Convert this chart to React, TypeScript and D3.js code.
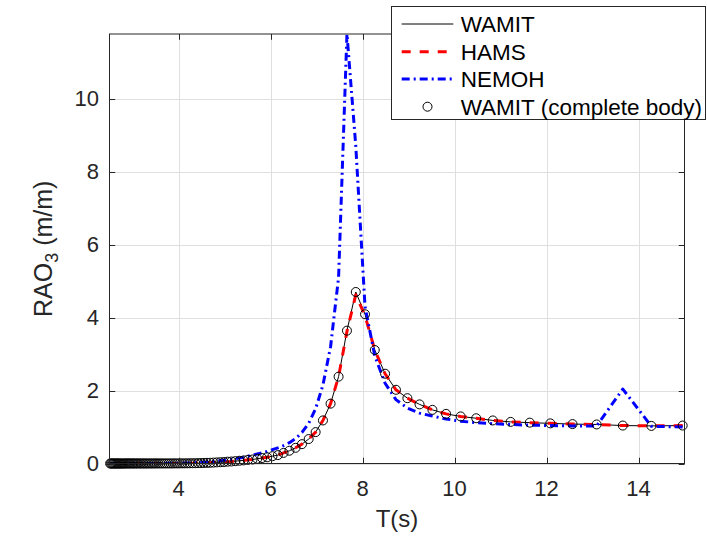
import React from 'react';
import * as d3 from 'd3';

// Wave periods T (s) of the frequency grid (from 14.96 s down to 2.513 s)
const period: number[] = [
  14.960, 14.280, 13.659, 13.090, 12.566, 12.083, 11.636, 11.220, 10.833, 10.472,
  10.134, 9.817, 9.520, 9.240, 8.976, 8.727, 8.491, 8.267, 8.055, 7.854,
  7.662, 7.480, 7.306, 7.140, 6.981, 6.830, 6.684, 6.545, 6.411, 6.283,
  6.160, 6.042, 5.927, 5.818, 5.712, 5.610, 5.512, 5.417, 5.325, 5.236,
  5.150, 5.067, 4.987, 4.909, 4.833, 4.760, 4.689, 4.620, 4.553, 4.488,
  4.425, 4.363, 4.304, 4.245, 4.189, 4.134, 4.080, 4.028, 3.977, 3.927,
  3.879, 3.831, 3.785, 3.740, 3.696, 3.653, 3.611, 3.570, 3.530, 3.491,
  3.452, 3.415, 3.378, 3.342, 3.307, 3.272, 3.239, 3.206, 3.173, 3.142,
  3.110, 3.080, 3.050, 3.021, 2.992, 2.964, 2.936, 2.909, 2.882, 2.856,
  2.830, 2.805, 2.780, 2.756, 2.732, 2.708, 2.685, 2.663, 2.640, 2.618,
  2.596, 2.575, 2.554, 2.533, 2.513,
];

const wamit: number[] = [
  1.04, 1.03, 1.04, 1.07, 1.08, 1.10, 1.12, 1.14, 1.18, 1.24,
  1.29, 1.36, 1.47, 1.62, 1.79, 2.02, 2.46, 3.11, 4.09, 4.70,
  3.64, 2.38, 1.64, 1.18, 0.86, 0.67, 0.53, 0.43, 0.35, 0.29,
  0.23, 0.20, 0.17, 0.15, 0.13, 0.11, 0.10, 0.085, 0.075, 0.065,
  0.055, 0.05, 0.04, 0.035, 0.03, 0.025, 0.02, 0.018, 0.015, 0.012,
  0.01, 0.008, 0.007, 0.006, 0.005, 0.004, 0.004, 0.003, 0.003, 0.003,
  0.002, 0.002, 0.002, 0.002, 0.002, 0.002, 0.002, 0.002, 0.002, 0.002,
  0.001, 0.001, 0.001, 0.001, 0.001, 0.001, 0.001, 0.001, 0.001, 0.001,
  0.001, 0.001, 0.001, 0.001, 0.001, 0.001, 0.001, 0.001, 0.001, 0.001,
  0, 0, 0, 0, 0, 0, 0, 0, 0, 0,
  0, 0, 0, 0, 0,
];

const hams: number[] = [
  1.04, 1.03, 1.04, 1.07, 1.08, 1.10, 1.12, 1.14, 1.18, 1.24,
  1.29, 1.36, 1.47, 1.62, 1.79, 2.02, 2.46, 3.11, 4.05, 4.62,
  3.62, 2.38, 1.64, 1.18, 0.86, 0.67, 0.53, 0.43, 0.35, 0.29,
  0.23, 0.20, 0.17, 0.15, 0.13, 0.11, 0.10, 0.085, 0.075, 0.065,
  0.055, 0.05, 0.04, 0.035, 0.03, 0.025, 0.02, 0.018, 0.015, 0.012,
  0.01, 0.008, 0.007, 0.006, 0.005, 0.004, 0.004, 0.003, 0.003, 0.003,
  0.002, 0.002, 0.002, 0.002, 0.002, 0.002, 0.002, 0.002, 0.002, 0.002,
  0.001, 0.001, 0.001, 0.001, 0.001, 0.001, 0.001, 0.001, 0.001, 0.001,
  0.001, 0.001, 0.001, 0.001, 0.001, 0.001, 0.001, 0.001, 0.001, 0.001,
  0, 0, 0, 0, 0, 0, 0, 0, 0, 0,
  0, 0, 0, 0, 0,
];

const nemoh: number[] = [
  1.00, 1.02, 2.04, 1.03, 1.03, 1.04, 1.05, 1.07, 1.09, 1.12,
  1.16, 1.22, 1.30, 1.38, 1.52, 1.75, 2.20, 2.95, 4.30, 8.70,
  11.77, 5.10, 3.20, 2.15, 1.50, 1.10, 0.85, 0.68, 0.57, 0.49,
  0.43, 0.38, 0.33, 0.29, 0.26, 0.23, 0.20, 0.17, 0.15, 0.13,
  0.115, 0.10, 0.088, 0.077, 0.067, 0.058, 0.05, 0.043, 0.037, 0.032,
  0.027, 0.023, 0.02, 0.017, 0.015, 0.013, 0.011, 0.01, 0.009, 0.008,
  0.007, 0.006, 0.005, 0.005, 0.004, 0.004, 0.003, 0.003, 0.003, 0.002,
  0.002, 0.002, 0.002, 0.002, 0.002, 0.002, 0.002, 0.002, 0.002, 0.002,
  0.001, 0.001, 0.001, 0.001, 0.001, 0.001, 0.001, 0.001, 0.001, 0.001,
  0.001, 0.001, 0.001, 0.001, 0.001, 0, 0, 0, 0, 0,
  0, 0, 0, 0, 0,
];

const wamitComplete: number[] = [
  1.04, 1.03, 1.04, 1.07, 1.08, 1.10, 1.12, 1.14, 1.18, 1.24,
  1.29, 1.36, 1.47, 1.62, 1.79, 2.02, 2.46, 3.11, 4.09, 4.70,
  3.64, 2.38, 1.64, 1.18, 0.86, 0.67, 0.53, 0.43, 0.35, 0.29,
  0.23, 0.20, 0.17, 0.15, 0.13, 0.11, 0.10, 0.085, 0.075, 0.065,
  0.055, 0.05, 0.04, 0.035, 0.03, 0.025, 0.02, 0.018, 0.015, 0.012,
  0.01, 0.008, 0.007, 0.006, 0.005, 0.004, 0.004, 0.003, 0.003, 0.003,
  0.002, 0.002, 0.002, 0.002, 0.002, 0.002, 0.002, 0.002, 0.002, 0.002,
  0.001, 0.001, 0.001, 0.001, 0.001, 0.001, 0.001, 0.001, 0.001, 0.001,
  0.001, 0.001, 0.001, 0.001, 0.001, 0.001, 0.001, 0.001, 0.001, 0.001,
  0, 0, 0, 0, 0, 0, 0, 0, 0, 0,
  0, 0, 0, 0, 0,
];

const xTicks = [4, 6, 8, 10, 12, 14];
const yTicks = [0, 2, 4, 6, 8, 10];
const legendLabels = ['WAMIT', 'HAMS', 'NEMOH', 'WAMIT (complete body)'];

const FONT = '"Liberation Sans", Arial, Helvetica, sans-serif';
const AX = '#262626';

export default function App() {
  const W = 707, H = 539;
  const L = 109.5, R = 684.5, T = 34, B = 463.5;
  const x = d3.scaleLinear().domain([2.5, 15]).range([L, R]);
  const y = d3.scaleLinear().domain([0, 11.77]).range([B, T]);
  const mk = (vals: number[]) =>
    d3.line<number>().x((_, i) => x(period[i])).y((d) => y(d))(vals) || '';
  const tl = 5.75;

  const legX0 = 401.7, legX1 = 453.3, legTx = 460.7;
  const rows = [24, 51.7, 79, 106.7];

  return (
    <svg width={W} height={H} style={{ position: 'absolute', left: 0, top: 0, display: 'block', background: '#fff' }}
      fontFamily={FONT}>
      <defs>
        <clipPath id="plotClip">
          <rect x={L} y={T} width={R - L} height={B - T} />
        </clipPath>
      </defs>
      <rect x={0} y={0} width={W} height={H} fill="#fff" />
      {/* grid */}
      <g stroke="#dfdfdf" strokeWidth={1}>
        {xTicks.map((t) => (
          <line key={'gx' + t} x1={Math.round(x(t)) + 0.5} x2={Math.round(x(t)) + 0.5} y1={T} y2={B} />
        ))}
        {yTicks.map((t) => (
          <line key={'gy' + t} x1={L} x2={R} y1={Math.round(y(t)) + 0.5} y2={Math.round(y(t)) + 0.5} />
        ))}
      </g>
      {/* series */}
      <g clipPath="url(#plotClip)" fill="none" strokeLinejoin="round">
        <path d={mk(wamit)} stroke="#000" strokeWidth={1} />
        <path d={mk(hams)} stroke="#ff0000" strokeWidth={3} strokeDasharray="9,9" />
        <path d={mk(nemoh)} stroke="#0000ff" strokeWidth={3} strokeDasharray="8,4,2,4" />
      </g>
      <g fill="none" stroke="#000" strokeWidth={1}>
        {wamitComplete.map((v, i) => (
          <circle key={'c' + i} cx={x(period[i])} cy={y(v)} r={4.5} />
        ))}
      </g>
      {/* axes box */}
      <rect x={L} y={T} width={R - L} height={B - T} fill="none" stroke={AX} strokeWidth={1} />
      <g stroke={AX} strokeWidth={1}>
        {xTicks.map((t) => {
          const px = Math.round(x(t)) + 0.5;
          return (
            <g key={'tx' + t}>
              <line x1={px} x2={px} y1={B} y2={B - tl} />
              <line x1={px} x2={px} y1={T} y2={T + tl} />
            </g>
          );
        })}
        {yTicks.map((t) => {
          const py = Math.round(y(t)) + 0.5;
          return (
            <g key={'ty' + t}>
              <line x1={L} x2={L + tl} y1={py} y2={py} />
              <line x1={R} x2={R - tl} y1={py} y2={py} />
            </g>
          );
        })}
      </g>
      <g fill={AX} fontSize={22}>
        {xTicks.map((t) => (
          <text key={'lx' + t} x={x(t)} y={496} textAnchor="middle">{t}</text>
        ))}
        {yTicks.map((t) => (
          <text key={'ly' + t} x={99} y={y(t) + 7.8} textAnchor="end">{t}</text>
        ))}
      </g>
      <text x={(L + R) / 2} y={527} textAnchor="middle" fill={AX} fontSize={24}>T(s)</text>
      <text transform={`translate(52, ${(T + B) / 2}) rotate(-90)`} textAnchor="middle" fill={AX} fontSize={25}>
        RAO<tspan fontSize={18} dy={6}>3</tspan><tspan dy={-6}> (m/m)</tspan>
      </text>
      {/* legend */}
      <rect x={391.5} y={6.5} width={314} height={113} fill="#fff" stroke={AX} strokeWidth={1} />
      <line x1={legX0} x2={legX1} y1={rows[0]} y2={rows[0]} stroke="#000" strokeWidth={1} />
      <line x1={legX0} x2={legX1} y1={rows[1]} y2={rows[1]} stroke="#ff0000" strokeWidth={3} strokeDasharray="9,9" />
      <line x1={legX0} x2={legX1} y1={rows[2]} y2={rows[2]} stroke="#0000ff" strokeWidth={3} strokeDasharray="8,4,2,4" />
      <circle cx={(legX0 + legX1) / 2} cy={rows[3]} r={4.5} fill="none" stroke="#000" strokeWidth={1} />
      <g fill="#000" fontSize={22.5}>
        {legendLabels.map((s, i) => (
          <text key={s} x={legTx} y={rows[i] + 8}>{s}</text>
        ))}
      </g>
    </svg>
  );
}
